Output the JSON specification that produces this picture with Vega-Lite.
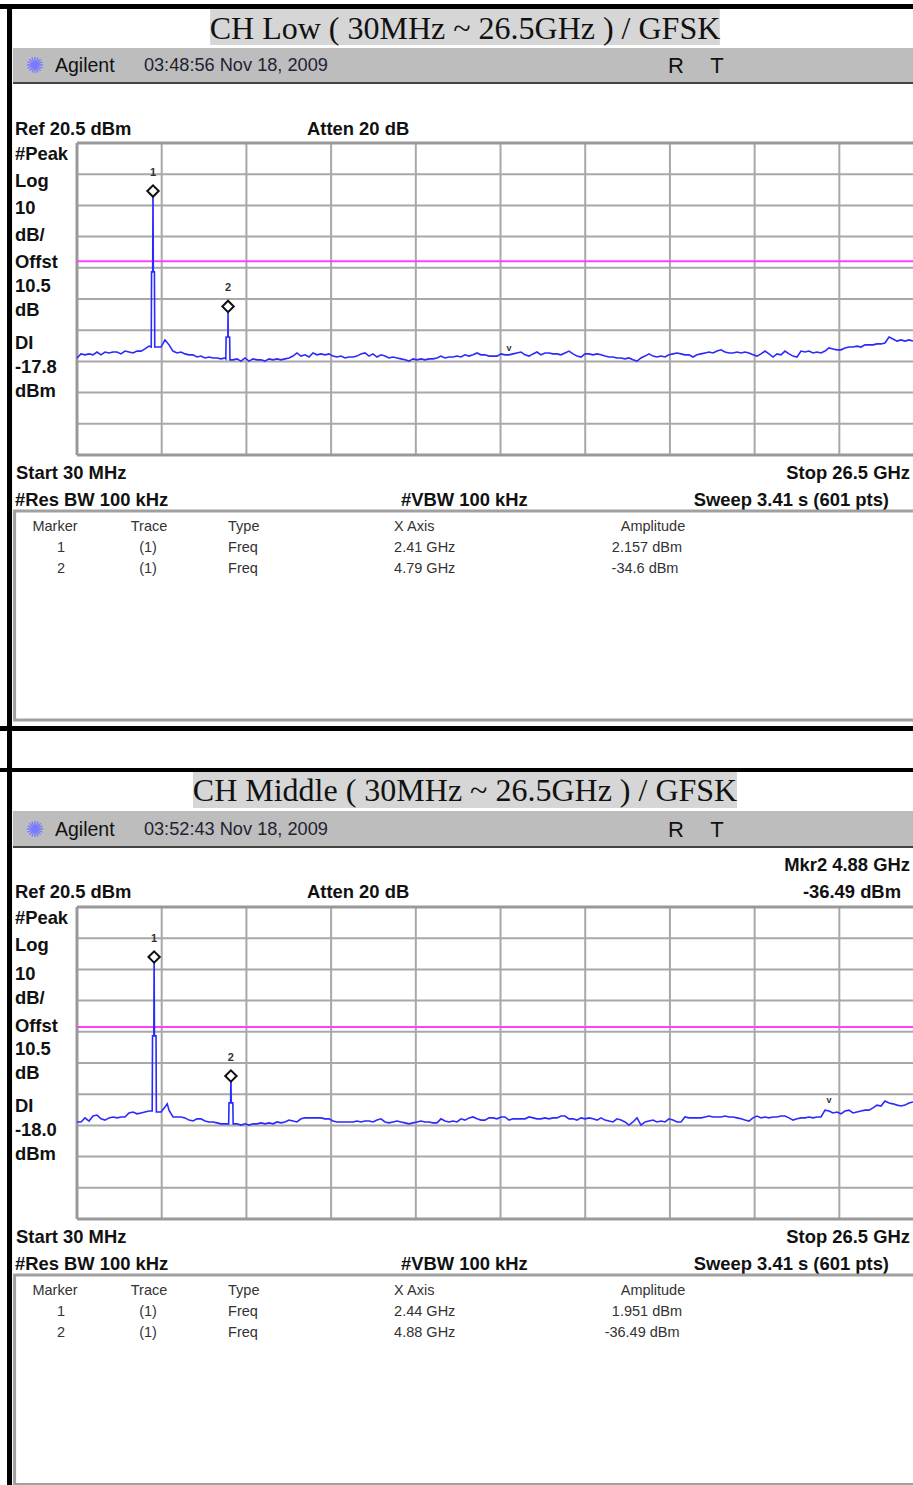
{"$schema":"https://vega.github.io/schema/vega-lite/v6.json","width":913,"height":1485,"padding":0,"autosize":{"type":"none"},"background":"white","config":{"view":{"stroke":null},"axis":{"disable":true},"text":{"font":"Liberation Sans","dy":1}},
"data":{"values":[{"note":"annotation"}]},
"datasets":{
"gridX":[{"f":2.677},{"f":5.324},{"f":7.971},{"f":10.618},{"f":13.265},{"f":15.912},{"f":18.559},{"f":21.206},{"f":23.853}],
"gridY":[{"a":10.5},{"a":0.5},{"a":-9.5},{"a":-19.5},{"a":-29.5},{"a":-39.5},{"a":-49.5},{"a":-59.5},{"a":-69.5}],
"markersLow":[{"m":"1","f":2.405,"a":5.1,"tr":"(1)","ty":"Freq","xa":"2.41 GHz","amp":"2.157 dBm"},{"m":"2","f":4.75,"a":-31.9,"tr":"(1)","ty":"Freq","xa":"4.79 GHz","amp":"-34.6 dBm"}],
"markersMid":[{"m":"1","f":2.44,"a":4.47,"tr":"(1)","ty":"Freq","xa":"2.44 GHz","amp":"1.951 dBm"},{"m":"2","f":4.84,"a":-33.67,"tr":"(1)","ty":"Freq","xa":"4.88 GHz","amp":"-36.49 dBm"}],
"low":[{"f":0.03,"a":-48.4},{"f":0.155,"a":-47.1},{"f":0.28,"a":-47.4},{"f":0.405,"a":-47.1},{"f":0.53,"a":-47.4},{"f":0.655,"a":-46.5},{"f":0.78,"a":-47.4},{"f":0.905,"a":-46.5},{"f":1.03,"a":-46.8},{"f":1.155,"a":-46.5},{"f":1.28,"a":-46.5},{"f":1.405,"a":-47.1},{"f":1.53,"a":-46.2},{"f":1.655,"a":-46.5},{"f":1.78,"a":-46.8},{"f":1.905,"a":-46.2},{"f":2.03,"a":-46.2},{"f":2.155,"a":-45.5},{"f":2.28,"a":-44.6},{"f":2.35,"a":-44.9},{"f":2.36,"a":-20.8},{"f":2.395,"a":-20.8},{"f":2.405,"a":5.1},{"f":2.415,"a":-20.8},{"f":2.45,"a":-20.8},{"f":2.46,"a":-44.9},{"f":2.53,"a":-44.9},{"f":2.655,"a":-44.9},{"f":2.78,"a":-42.6},{"f":2.905,"a":-44.2},{"f":3.03,"a":-46.2},{"f":3.155,"a":-46.8},{"f":3.28,"a":-46.5},{"f":3.405,"a":-47.1},{"f":3.53,"a":-47.4},{"f":3.655,"a":-47.4},{"f":3.78,"a":-48.1},{"f":3.905,"a":-47.8},{"f":4.03,"a":-48.4},{"f":4.155,"a":-48.1},{"f":4.28,"a":-48.4},{"f":4.405,"a":-48.4},{"f":4.53,"a":-48.7},{"f":4.655,"a":-48.4},{"f":4.68,"a":-48.7},{"f":4.69,"a":-41.7},{"f":4.745,"a":-41.7},{"f":4.75,"a":-31.9},{"f":4.755,"a":-41.7},{"f":4.8,"a":-41.7},{"f":4.81,"a":-49},{"f":4.905,"a":-49},
{"f":5.03,"a":-48.7},{"f":5.155,"a":-49.4},{"f":5.28,"a":-48.4},{"f":5.405,"a":-49.4},{"f":5.53,"a":-48.7},{"f":5.655,"a":-49},{"f":5.78,"a":-49},{"f":5.905,"a":-49.4},
{"f":6.03,"a":-48.7},{"f":6.155,"a":-49},{"f":6.28,"a":-48.7},{"f":6.405,"a":-49},{"f":6.53,"a":-48.7},{"f":6.655,"a":-48.4},{"f":6.78,"a":-47.8},{"f":6.905,"a":-46.8},
{"f":7.03,"a":-47.8},{"f":7.155,"a":-47.4},{"f":7.28,"a":-48.1},{"f":7.405,"a":-46.8},{"f":7.53,"a":-47.4},{"f":7.655,"a":-47.1},{"f":7.78,"a":-47.4},{"f":7.905,"a":-47.1},
{"f":8.03,"a":-47.8},{"f":8.155,"a":-48.1},{"f":8.28,"a":-47.8},{"f":8.405,"a":-48.4},{"f":8.53,"a":-48.1},{"f":8.655,"a":-48.1},{"f":8.78,"a":-47.8},{"f":8.905,"a":-47.1},
{"f":9.03,"a":-46.8},{"f":9.155,"a":-47.8},{"f":9.28,"a":-47.1},{"f":9.405,"a":-48.1},{"f":9.53,"a":-47.4},{"f":9.655,"a":-47.8},{"f":9.78,"a":-48.4},{"f":9.905,"a":-48.1},
{"f":10.03,"a":-48.4},{"f":10.155,"a":-48.7},{"f":10.28,"a":-49},{"f":10.405,"a":-49.4},{"f":10.53,"a":-48.7},{"f":10.655,"a":-49},{"f":10.78,"a":-48.7},{"f":10.905,"a":-49},
{"f":11.03,"a":-48.7},{"f":11.155,"a":-48.7},{"f":11.28,"a":-48.4},{"f":11.405,"a":-47.8},{"f":11.53,"a":-48.4},{"f":11.655,"a":-48.1},{"f":11.78,"a":-48.1},{"f":11.905,"a":-47.8},
{"f":12.03,"a":-48.1},{"f":12.155,"a":-47.4},{"f":12.28,"a":-47.8},{"f":12.405,"a":-47.4},{"f":12.53,"a":-46.8},{"f":12.655,"a":-47.4},{"f":12.78,"a":-47.4},{"f":12.905,"a":-47.8},
{"f":13.03,"a":-47.8},{"f":13.155,"a":-47.8},{"f":13.28,"a":-47.1},{"f":13.405,"a":-47.4},{"f":13.53,"a":-47.4},{"f":13.655,"a":-47.1},{"f":13.78,"a":-46.8},{"f":13.905,"a":-46.5},
{"f":14.03,"a":-47.4},{"f":14.155,"a":-47.8},{"f":14.28,"a":-47.1},{"f":14.405,"a":-46.5},{"f":14.53,"a":-47.4},{"f":14.655,"a":-46.8},{"f":14.78,"a":-46.8},{"f":14.905,"a":-47.1},
{"f":15.03,"a":-47.1},{"f":15.155,"a":-47.4},{"f":15.28,"a":-46.8},{"f":15.405,"a":-46.2},{"f":15.53,"a":-47.1},{"f":15.655,"a":-47.8},{"f":15.78,"a":-48.1},{"f":15.905,"a":-47.1},
{"f":16.03,"a":-47.1},{"f":16.155,"a":-47.4},{"f":16.28,"a":-47.1},{"f":16.405,"a":-47.4},{"f":16.53,"a":-47.8},{"f":16.655,"a":-48.1},{"f":16.78,"a":-48.1},{"f":16.905,"a":-48.4},
{"f":17.03,"a":-48.4},{"f":17.155,"a":-48.7},{"f":17.28,"a":-48.4},{"f":17.405,"a":-49},{"f":17.53,"a":-49.4},{"f":17.655,"a":-48.4},{"f":17.78,"a":-47.8},{"f":17.905,"a":-47.1},
{"f":18.03,"a":-47.8},{"f":18.155,"a":-48.1},{"f":18.28,"a":-47.8},{"f":18.405,"a":-48.1},{"f":18.53,"a":-47.4},{"f":18.655,"a":-47.1},{"f":18.78,"a":-46.8},{"f":18.905,"a":-47.1},
{"f":19.03,"a":-47.4},{"f":19.155,"a":-47.4},{"f":19.28,"a":-48.1},{"f":19.405,"a":-47.4},{"f":19.53,"a":-47.1},{"f":19.655,"a":-46.8},{"f":19.78,"a":-46.5},{"f":19.905,"a":-46.8},
{"f":20.03,"a":-46.2},{"f":20.155,"a":-45.8},{"f":20.28,"a":-46.5},{"f":20.405,"a":-46.8},{"f":20.53,"a":-46.8},{"f":20.655,"a":-46.5},{"f":20.78,"a":-46.8},{"f":20.905,"a":-46.5},
{"f":21.03,"a":-46.8},{"f":21.155,"a":-47.4},{"f":21.28,"a":-47.8},{"f":21.405,"a":-47.1},{"f":21.53,"a":-46.2},{"f":21.655,"a":-47.1},{"f":21.78,"a":-48.1},{"f":21.905,"a":-47.1},
{"f":22.03,"a":-47.4},{"f":22.155,"a":-46.2},{"f":22.28,"a":-47.1},{"f":22.405,"a":-47.8},{"f":22.53,"a":-48.1},{"f":22.655,"a":-46.2},{"f":22.78,"a":-46.5},{"f":22.905,"a":-46.2},
{"f":23.03,"a":-46.8},{"f":23.155,"a":-46.5},{"f":23.28,"a":-46.8},{"f":23.405,"a":-46.2},{"f":23.53,"a":-45.2},{"f":23.655,"a":-45.5},{"f":23.78,"a":-45.8},{"f":23.905,"a":-45.8},
{"f":24.03,"a":-45.2},{"f":24.155,"a":-44.9},{"f":24.28,"a":-44.9},{"f":24.405,"a":-44.6},{"f":24.53,"a":-44.9},{"f":24.655,"a":-44.2},{"f":24.78,"a":-44.2},{"f":24.905,"a":-44.2},
{"f":25.03,"a":-43.9},{"f":25.155,"a":-43.9},{"f":25.28,"a":-43.6},{"f":25.405,"a":-41.7},{"f":25.53,"a":-42.3},{"f":25.655,"a":-43},{"f":25.78,"a":-42.6},{"f":25.905,"a":-43},{"f":26.03,"a":-42.6},{"f":26.155,"a":-43}],
"mid":[{"f":0.03,"a":-48.4},{"f":0.155,"a":-48.4},{"f":0.28,"a":-47.1},{"f":0.405,"a":-48.1},{"f":0.53,"a":-46.5},{"f":0.655,"a":-46.2},{"f":0.78,"a":-47.4},{"f":0.905,"a":-47.8},{"f":1.03,"a":-47.1},{"f":1.155,"a":-46.8},{"f":1.28,"a":-47.1},{"f":1.405,"a":-46.8},{"f":1.53,"a":-46.8},{"f":1.655,"a":-45.5},{"f":1.78,"a":-45.2},{"f":1.905,"a":-45.8},{"f":2.03,"a":-45.5},{"f":2.155,"a":-45.2},{"f":2.28,"a":-44.9},{"f":2.38,"a":-44.9},{"f":2.39,"a":-20.8},{"f":2.43,"a":-20.8},{"f":2.44,"a":4.47},{"f":2.45,"a":-20.8},{"f":2.5,"a":-20.8},{"f":2.51,"a":-45.2},{"f":2.655,"a":-45.2},{"f":2.78,"a":-43.6},{"f":2.85,"a":-42.6},{"f":2.905,"a":-44.6},{"f":3.03,"a":-46.8},{"f":3.155,"a":-46.8},{"f":3.28,"a":-46.8},{"f":3.405,"a":-47.1},{"f":3.53,"a":-47.8},{"f":3.655,"a":-48.1},{"f":3.78,"a":-47.4},{"f":3.905,"a":-47.4},{"f":4.03,"a":-48.1},{"f":4.155,"a":-48.4},{"f":4.28,"a":-48.4},{"f":4.405,"a":-48.7},{"f":4.53,"a":-49},{"f":4.655,"a":-49},{"f":4.77,"a":-49},{"f":4.78,"a":-42.3},{"f":4.83,"a":-42.3},{"f":4.84,"a":-33.67},{"f":4.85,"a":-42.3},{"f":4.9,"a":-42.3},{"f":4.91,"a":-49},
{"f":5.03,"a":-49},{"f":5.155,"a":-49.4},{"f":5.28,"a":-49},{"f":5.405,"a":-49.4},{"f":5.53,"a":-49},{"f":5.655,"a":-49},{"f":5.78,"a":-48.7},{"f":5.905,"a":-49},
{"f":6.03,"a":-48.7},{"f":6.155,"a":-49},{"f":6.28,"a":-48.4},{"f":6.405,"a":-48.7},{"f":6.53,"a":-48.4},{"f":6.655,"a":-47.8},{"f":6.78,"a":-48.1},{"f":6.905,"a":-48.4},
{"f":7.03,"a":-47.4},{"f":7.155,"a":-47.1},{"f":7.28,"a":-47.1},{"f":7.405,"a":-47.1},{"f":7.53,"a":-47.1},{"f":7.655,"a":-47.1},{"f":7.78,"a":-47.4},{"f":7.905,"a":-47.4},
{"f":8.03,"a":-48.1},{"f":8.155,"a":-48.4},{"f":8.28,"a":-48.4},{"f":8.405,"a":-48.4},{"f":8.53,"a":-48.4},{"f":8.655,"a":-48.4},{"f":8.78,"a":-48.1},{"f":8.905,"a":-48.4},
{"f":9.03,"a":-48.1},{"f":9.155,"a":-48.1},{"f":9.28,"a":-48.4},{"f":9.405,"a":-47.8},{"f":9.53,"a":-47.4},{"f":9.655,"a":-48.4},{"f":9.78,"a":-48.7},{"f":9.905,"a":-48.4},
{"f":10.03,"a":-48.1},{"f":10.155,"a":-48.4},{"f":10.28,"a":-48.7},{"f":10.405,"a":-49},{"f":10.53,"a":-48.7},{"f":10.655,"a":-48.4},{"f":10.78,"a":-48.1},{"f":10.905,"a":-48.4},
{"f":11.03,"a":-48.4},{"f":11.155,"a":-48.7},{"f":11.28,"a":-48.7},{"f":11.405,"a":-47.4},{"f":11.53,"a":-48.1},{"f":11.655,"a":-48.4},{"f":11.78,"a":-48.1},{"f":11.905,"a":-48.4},
{"f":12.03,"a":-47.4},{"f":12.155,"a":-47.8},{"f":12.28,"a":-47.1},{"f":12.405,"a":-46.8},{"f":12.53,"a":-47.4},{"f":12.655,"a":-47.8},{"f":12.78,"a":-47.8},{"f":12.905,"a":-47.1},
{"f":13.03,"a":-47.1},{"f":13.155,"a":-47.4},{"f":13.28,"a":-46.8},{"f":13.405,"a":-46.8},{"f":13.53,"a":-47.8},{"f":13.655,"a":-47.4},{"f":13.78,"a":-47.4},{"f":13.905,"a":-47.4},
{"f":14.03,"a":-47.4},{"f":14.155,"a":-46.8},{"f":14.28,"a":-47.1},{"f":14.405,"a":-47.4},{"f":14.53,"a":-47.4},{"f":14.655,"a":-47.1},{"f":14.78,"a":-47.4},{"f":14.905,"a":-47.1},
{"f":15.03,"a":-47.1},{"f":15.155,"a":-46.5},{"f":15.28,"a":-46.5},{"f":15.405,"a":-47.4},{"f":15.53,"a":-47.4},{"f":15.655,"a":-47.8},{"f":15.78,"a":-47.1},{"f":15.905,"a":-47.4},
{"f":16.03,"a":-47.1},{"f":16.155,"a":-47.4},{"f":16.28,"a":-47.8},{"f":16.405,"a":-47.1},{"f":16.53,"a":-47.8},{"f":16.655,"a":-48.1},{"f":16.78,"a":-48.4},{"f":16.905,"a":-47.4},
{"f":17.03,"a":-47.8},{"f":17.155,"a":-48.4},{"f":17.28,"a":-49.4},{"f":17.405,"a":-48.4},{"f":17.53,"a":-47.1},{"f":17.655,"a":-49.4},{"f":17.78,"a":-48.4},{"f":17.905,"a":-48.1},
{"f":18.03,"a":-47.8},{"f":18.155,"a":-48.4},{"f":18.28,"a":-48.1},{"f":18.405,"a":-48.4},{"f":18.53,"a":-47.4},{"f":18.655,"a":-47.8},{"f":18.78,"a":-48.4},{"f":18.905,"a":-48.4},
{"f":19.03,"a":-46.8},{"f":19.155,"a":-47.1},{"f":19.28,"a":-47.1},{"f":19.405,"a":-47.1},{"f":19.53,"a":-47.1},{"f":19.655,"a":-46.8},{"f":19.78,"a":-46.5},{"f":19.905,"a":-46.8},
{"f":20.03,"a":-46.8},{"f":20.155,"a":-46.8},{"f":20.28,"a":-46.5},{"f":20.405,"a":-46.8},{"f":20.53,"a":-46.8},{"f":20.655,"a":-47.1},{"f":20.78,"a":-47.4},{"f":20.905,"a":-47.8},
{"f":21.03,"a":-48.1},{"f":21.155,"a":-47.1},{"f":21.28,"a":-46.5},{"f":21.405,"a":-47.1},{"f":21.53,"a":-46.8},{"f":21.655,"a":-47.1},{"f":21.78,"a":-46.8},{"f":21.905,"a":-46.8},
{"f":22.03,"a":-46.5},{"f":22.155,"a":-46.5},{"f":22.28,"a":-47.1},{"f":22.405,"a":-47.8},{"f":22.53,"a":-47.4},{"f":22.655,"a":-47.1},{"f":22.78,"a":-47.1},{"f":22.905,"a":-46.8},
{"f":23.03,"a":-47.1},{"f":23.155,"a":-46.8},{"f":23.28,"a":-46.8},{"f":23.405,"a":-44.6},{"f":23.53,"a":-44.9},{"f":23.655,"a":-45.5},{"f":23.78,"a":-45.2},{"f":23.905,"a":-45.8},
{"f":24.03,"a":-44.9},{"f":24.155,"a":-44.6},{"f":24.28,"a":-45.5},{"f":24.405,"a":-45.2},{"f":24.53,"a":-44.9},{"f":24.655,"a":-44.6},{"f":24.78,"a":-44.6},{"f":24.905,"a":-43.9},
{"f":25.03,"a":-43},{"f":25.155,"a":-43.3},{"f":25.28,"a":-41.7},{"f":25.405,"a":-42.3},{"f":25.53,"a":-42.6},{"f":25.655,"a":-43},{"f":25.78,"a":-43.3},{"f":25.905,"a":-43},{"f":26.03,"a":-42.3},{"f":26.155,"a":-42}]
},
"resolve":{"scale":{"y":"independent"}},
"layer":[
{"layer":[
{"mark":{"type":"rect","color":"white","opacity":0},"encoding":{"x":{"datum":-2.37625,"scale":{"domain":[-2.37625,26.155],"nice":false,"zero":false},"axis":null},"x2":{"datum":26.155},"y":{"datum":66.33,"scale":{"domain":[-409.63,66.33],"nice":false,"zero":false},"axis":null},"y2":{"datum":-409.63}}},
{"mark":{"type":"rect","color":"black"},"encoding":{"x":{"datum":-2.37625},"x2":{"datum":26.155},"y":{"datum":65.05},"y2":{"datum":63.45}}},
{"mark":{"type":"rect","color":"black"},"encoding":{"x":{"datum":-2.37625},"x2":{"datum":26.155},"y":{"datum":-166.36},"y2":{"datum":-167.96}}},
{"mark":{"type":"rect","color":"black"},"encoding":{"x":{"datum":-2.1575},"x2":{"datum":-2.0},"y":{"datum":65.05},"y2":{"datum":-409.63}}},
{"mark":{"type":"rect","color":"#d6d6d6"},"encoding":{"x":{"datum":4.19},"x2":{"datum":20.12},"y":{"datum":63.45},"y2":{"datum":51.91}}},
{"mark":{"type":"text","font":"Liberation Serif","fontSize":32,"color":"#111"},"encoding":{"x":{"datum":12.155},"y":{"datum":57.36},"text":{"value":"CH Low ( 30MHz ~ 26.5GHz ) / GFSK"}}},
{"mark":{"type":"rect","color":"#bdbdbd"},"encoding":{"x":{"datum":-1.97},"x2":{"datum":26.155},"y":{"datum":50.95},"y2":{"datum":40.05}}},
{"mark":{"type":"rule","color":"#444","strokeWidth":2},"encoding":{"x":{"datum":-1.97},"x2":{"datum":26.155},"y":{"datum":39.73}}},
{"mark":{"type":"text","font":"DejaVu Sans","fontSize":22,"color":"#7a7aff"},"encoding":{"x":{"datum":-1.28},"y":{"datum":45.5},"text":{"value":"✺"}}},
{"mark":{"type":"text","fontSize":19.5,"align":"left","color":"#111"},"encoding":{"x":{"datum":-0.6575},"y":{"datum":45.5},"text":{"value":"Agilent"}}},
{"mark":{"type":"text","fontSize":18.2,"align":"left","color":"#223"},"encoding":{"x":{"datum":2.12},"y":{"datum":45.5},"text":{"value":"03:48:56  Nov 18, 2009"}}},
{"mark":{"type":"text","fontSize":22,"color":"#111"},"encoding":{"x":{"datum":18.75},"y":{"datum":45.5},"text":{"value":"R"}}},
{"mark":{"type":"text","fontSize":22,"color":"#111"},"encoding":{"x":{"datum":20.03},"y":{"datum":45.5},"text":{"value":"T"}}},
{"mark":{"type":"text","fontSize":18.4,"fontWeight":"bold","align":"left","color":"#111"},"encoding":{"x":{"datum":-1.91},"y":{"datum":25.31},"text":{"value":"Ref 20.5 dBm"}}},
{"mark":{"type":"text","fontSize":18.4,"fontWeight":"bold","align":"left","color":"#111"},"encoding":{"x":{"datum":7.2175},"y":{"datum":25.31},"text":{"value":"Atten 20 dB"}}},
{"mark":{"type":"text","fontSize":18.4,"fontWeight":"bold","align":"left","color":"#111"},"encoding":{"x":{"datum":-1.91},"y":{"datum":17.29},"text":{"value":"#Peak"}}},
{"mark":{"type":"text","fontSize":18.4,"fontWeight":"bold","align":"left","color":"#111"},"encoding":{"x":{"datum":-1.91},"y":{"datum":8.64},"text":{"value":"Log"}}},
{"mark":{"type":"text","fontSize":18.4,"fontWeight":"bold","align":"left","color":"#111"},"encoding":{"x":{"datum":-1.91},"y":{"datum":-0.01},"text":{"value":"10"}}},
{"mark":{"type":"text","fontSize":18.4,"fontWeight":"bold","align":"left","color":"#111"},"encoding":{"x":{"datum":-1.91},"y":{"datum":-8.67},"text":{"value":"dB/"}}},
{"mark":{"type":"text","fontSize":18.4,"fontWeight":"bold","align":"left","color":"#111"},"encoding":{"x":{"datum":-1.91},"y":{"datum":-17.32},"text":{"value":"Offst"}}},
{"mark":{"type":"text","fontSize":18.4,"fontWeight":"bold","align":"left","color":"#111"},"encoding":{"x":{"datum":-1.91},"y":{"datum":-25.01},"text":{"value":"10.5"}}},
{"mark":{"type":"text","fontSize":18.4,"fontWeight":"bold","align":"left","color":"#111"},"encoding":{"x":{"datum":-1.91},"y":{"datum":-32.7},"text":{"value":"dB"}}},
{"mark":{"type":"text","fontSize":18.4,"fontWeight":"bold","align":"left","color":"#111"},"encoding":{"x":{"datum":-1.91},"y":{"datum":-43.28},"text":{"value":"DI"}}},
{"mark":{"type":"text","fontSize":18.4,"fontWeight":"bold","align":"left","color":"#111"},"encoding":{"x":{"datum":-1.91},"y":{"datum":-50.97},"text":{"value":"-17.8"}}},
{"mark":{"type":"text","fontSize":18.4,"fontWeight":"bold","align":"left","color":"#111"},"encoding":{"x":{"datum":-1.91},"y":{"datum":-58.67},"text":{"value":"dBm"}}},
{"data":{"name":"gridX"},"mark":{"type":"rule","color":"#a8a8a8","strokeWidth":2},"encoding":{"x":{"field":"f","type":"quantitative"},"y":{"datum":20.5},"y2":{"datum":-79.5}}},
{"data":{"name":"gridY"},"mark":{"type":"rule","color":"#a8a8a8","strokeWidth":2},"encoding":{"y":{"field":"a","type":"quantitative"},"x":{"datum":0.03},"x2":{"datum":26.155}}},
{"mark":{"type":"rule","color":"#999","strokeWidth":3},"encoding":{"x":{"datum":0.03},"x2":{"datum":26.155},"y":{"datum":20.5}}},
{"mark":{"type":"rule","color":"#999","strokeWidth":3},"encoding":{"x":{"datum":0.03},"x2":{"datum":26.155},"y":{"datum":-79.5}}},
{"mark":{"type":"rule","color":"#999","strokeWidth":3},"encoding":{"x":{"datum":0.03},"y":{"datum":20.5},"y2":{"datum":-79.5}}},
{"mark":{"type":"rule","color":"#ff40ff","strokeWidth":2},"encoding":{"x":{"datum":0.03},"x2":{"datum":26.155},"y":{"datum":-17.4}}},
{"data":{"name":"low"},"mark":{"type":"line","color":"#2a2aff","strokeWidth":1.6},"encoding":{"x":{"field":"f","type":"quantitative"},"y":{"field":"a","type":"quantitative"}}},
{"data":{"name":"markersLow"},"mark":{"type":"point","shape":"diamond","filled":true,"fill":"white","stroke":"#111","strokeWidth":2,"size":130,"opacity":1},"encoding":{"x":{"field":"f","type":"quantitative"},"y":{"field":"a","type":"quantitative"}}},
{"data":{"name":"markersLow"},"mark":{"type":"text","fontSize":11,"fontWeight":"bold","dy":-18,"color":"#333"},"encoding":{"x":{"field":"f","type":"quantitative"},"y":{"field":"a","type":"quantitative"},"text":{"field":"m"}}},
{"mark":{"type":"text","fontSize":9,"fontWeight":"bold","color":"#333"},"encoding":{"x":{"datum":13.53},"y":{"datum":-44.9},"text":{"value":"v"}}},
{"mark":{"type":"text","fontSize":18.4,"fontWeight":"bold","align":"left","color":"#111"},"encoding":{"x":{"datum":-1.876},"y":{"datum":-84.95},"text":{"value":"Start 30 MHz"}}},
{"mark":{"type":"text","fontSize":18.4,"fontWeight":"bold","align":"right","color":"#111"},"encoding":{"x":{"datum":26.06},"y":{"datum":-84.95},"text":{"value":"Stop 26.5 GHz"}}},
{"mark":{"type":"text","fontSize":18.4,"fontWeight":"bold","align":"left","color":"#111"},"encoding":{"x":{"datum":-1.91},"y":{"datum":-93.6},"text":{"value":"#Res BW 100 kHz"}}},
{"mark":{"type":"text","fontSize":18.4,"fontWeight":"bold","align":"left","color":"#111"},"encoding":{"x":{"datum":10.155},"y":{"datum":-93.6},"text":{"value":"#VBW 100 kHz"}}},
{"mark":{"type":"text","fontSize":18.4,"fontWeight":"bold","align":"right","color":"#111"},"encoding":{"x":{"datum":25.405},"y":{"datum":-93.6},"text":{"value":"Sweep 3.41 s (601 pts)"}}},
{"mark":{"type":"rect","fill":"white","stroke":"#a0a0a0","strokeWidth":3,"clip":true},"encoding":{"x":{"datum":-1.92},"x2":{"datum":27},"y":{"datum":-97.45},"y2":{"datum":-164.43}}},
{"mark":{"type":"text","fontSize":14.5,"color":"#333"},"encoding":{"x":{"datum":-0.6575},"y":{"datum":-102.26},"text":{"value":"Marker"}}},
{"mark":{"type":"text","fontSize":14.5,"color":"#333"},"encoding":{"x":{"datum":2.28},"y":{"datum":-102.26},"text":{"value":"Trace"}}},
{"mark":{"type":"text","fontSize":14.5,"align":"left","color":"#333"},"encoding":{"x":{"datum":4.75},"y":{"datum":-102.26},"text":{"value":"Type"}}},
{"mark":{"type":"text","fontSize":14.5,"align":"left","color":"#333"},"encoding":{"x":{"datum":9.94},"y":{"datum":-102.26},"text":{"value":"X Axis"}}},
{"mark":{"type":"text","fontSize":14.5,"color":"#333"},"encoding":{"x":{"datum":18.03},"y":{"datum":-102.26},"text":{"value":"Amplitude"}}},
{"mark":{"type":"text","fontSize":14.5,"color":"#333"},"encoding":{"x":{"datum":-0.47},"y":{"datum":-108.99},"text":{"value":"1"}}},
{"mark":{"type":"text","fontSize":14.5,"color":"#333"},"encoding":{"x":{"datum":2.25},"y":{"datum":-108.99},"text":{"value":"(1)"}}},
{"mark":{"type":"text","fontSize":14.5,"align":"left","color":"#333"},"encoding":{"x":{"datum":4.75},"y":{"datum":-108.99},"text":{"value":"Freq"}}},
{"mark":{"type":"text","fontSize":14.5,"align":"left","color":"#333"},"encoding":{"x":{"datum":9.94},"y":{"datum":-108.99},"text":{"value":"2.41 GHz"}}},
{"mark":{"type":"text","fontSize":14.5,"color":"#333"},"encoding":{"x":{"datum":17.84},"y":{"datum":-108.99},"text":{"value":"2.157 dBm"}}},
{"mark":{"type":"text","fontSize":14.5,"color":"#333"},"encoding":{"x":{"datum":-0.47},"y":{"datum":-115.72},"text":{"value":"2"}}},
{"mark":{"type":"text","fontSize":14.5,"color":"#333"},"encoding":{"x":{"datum":2.25},"y":{"datum":-115.72},"text":{"value":"(1)"}}},
{"mark":{"type":"text","fontSize":14.5,"align":"left","color":"#333"},"encoding":{"x":{"datum":4.75},"y":{"datum":-115.72},"text":{"value":"Freq"}}},
{"mark":{"type":"text","fontSize":14.5,"align":"left","color":"#333"},"encoding":{"x":{"datum":9.94},"y":{"datum":-115.72},"text":{"value":"4.79 GHz"}}},
{"mark":{"type":"text","fontSize":14.5,"color":"#333"},"encoding":{"x":{"datum":17.78},"y":{"datum":-115.72},"text":{"value":"-34.6 dBm"}}}
]},
{"layer":[
{"mark":{"type":"rect","color":"white","opacity":0},"encoding":{"x":{"datum":-2.37625},"x2":{"datum":26.155},"y":{"datum":311.2,"scale":{"domain":[-164.76,311.2],"nice":false,"zero":false},"axis":null},"y2":{"datum":-164.76}}},
{"mark":{"type":"rect","color":"black"},"encoding":{"x":{"datum":-2.37625},"x2":{"datum":26.155},"y":{"datum":65.05},"y2":{"datum":63.77}}},
{"mark":{"type":"rect","color":"#d6d6d6"},"encoding":{"x":{"datum":3.655},"x2":{"datum":20.655},"y":{"datum":63.77},"y2":{"datum":52.23}}},
{"mark":{"type":"text","font":"Liberation Serif","fontSize":32,"color":"#111"},"encoding":{"x":{"datum":12.155},"y":{"datum":58},"text":{"value":"CH Middle ( 30MHz ~ 26.5GHz ) / GFSK"}}},
{"mark":{"type":"rect","color":"#bdbdbd"},"encoding":{"x":{"datum":-1.97},"x2":{"datum":26.155},"y":{"datum":51.27},"y2":{"datum":40.05}}},
{"mark":{"type":"rule","color":"#444","strokeWidth":2},"encoding":{"x":{"datum":-1.97},"x2":{"datum":26.155},"y":{"datum":39.73}}},
{"mark":{"type":"text","font":"DejaVu Sans","fontSize":22,"color":"#7a7aff"},"encoding":{"x":{"datum":-1.28},"y":{"datum":45.5},"text":{"value":"✺"}}},
{"mark":{"type":"text","fontSize":19.5,"align":"left","color":"#111"},"encoding":{"x":{"datum":-0.6575},"y":{"datum":45.5},"text":{"value":"Agilent"}}},
{"mark":{"type":"text","fontSize":18.2,"align":"left","color":"#223"},"encoding":{"x":{"datum":2.12},"y":{"datum":45.5},"text":{"value":"03:52:43  Nov 18, 2009"}}},
{"mark":{"type":"text","fontSize":22,"color":"#111"},"encoding":{"x":{"datum":18.75},"y":{"datum":45.5},"text":{"value":"R"}}},
{"mark":{"type":"text","fontSize":22,"color":"#111"},"encoding":{"x":{"datum":20.03},"y":{"datum":45.5},"text":{"value":"T"}}},
{"mark":{"type":"text","fontSize":18.4,"fontWeight":"bold","align":"right","color":"#111"},"encoding":{"x":{"datum":26.06},"y":{"datum":34.28},"text":{"value":"Mkr2  4.88 GHz"}}},
{"mark":{"type":"text","fontSize":18.4,"fontWeight":"bold","align":"right","color":"#111"},"encoding":{"x":{"datum":25.78},"y":{"datum":25.63},"text":{"value":"-36.49 dBm"}}},
{"mark":{"type":"text","fontSize":18.4,"fontWeight":"bold","align":"left","color":"#111"},"encoding":{"x":{"datum":-1.91},"y":{"datum":25.63},"text":{"value":"Ref 20.5 dBm"}}},
{"mark":{"type":"text","fontSize":18.4,"fontWeight":"bold","align":"left","color":"#111"},"encoding":{"x":{"datum":7.2175},"y":{"datum":25.63},"text":{"value":"Atten 20 dB"}}},
{"mark":{"type":"text","fontSize":18.4,"fontWeight":"bold","align":"left","color":"#111"},"encoding":{"x":{"datum":-1.91},"y":{"datum":17.29},"text":{"value":"#Peak"}}},
{"mark":{"type":"text","fontSize":18.4,"fontWeight":"bold","align":"left","color":"#111"},"encoding":{"x":{"datum":-1.91},"y":{"datum":8.64},"text":{"value":"Log"}}},
{"mark":{"type":"text","fontSize":18.4,"fontWeight":"bold","align":"left","color":"#111"},"encoding":{"x":{"datum":-1.91},"y":{"datum":-0.69},"text":{"value":"10"}}},
{"mark":{"type":"text","fontSize":18.4,"fontWeight":"bold","align":"left","color":"#111"},"encoding":{"x":{"datum":-1.91},"y":{"datum":-8.35},"text":{"value":"dB/"}}},
{"mark":{"type":"text","fontSize":18.4,"fontWeight":"bold","align":"left","color":"#111"},"encoding":{"x":{"datum":-1.91},"y":{"datum":-17.32},"text":{"value":"Offst"}}},
{"mark":{"type":"text","fontSize":18.4,"fontWeight":"bold","align":"left","color":"#111"},"encoding":{"x":{"datum":-1.91},"y":{"datum":-24.69},"text":{"value":"10.5"}}},
{"mark":{"type":"text","fontSize":18.4,"fontWeight":"bold","align":"left","color":"#111"},"encoding":{"x":{"datum":-1.91},"y":{"datum":-32.38},"text":{"value":"dB"}}},
{"mark":{"type":"text","fontSize":18.4,"fontWeight":"bold","align":"left","color":"#111"},"encoding":{"x":{"datum":-1.91},"y":{"datum":-42.96},"text":{"value":"DI"}}},
{"mark":{"type":"text","fontSize":18.4,"fontWeight":"bold","align":"left","color":"#111"},"encoding":{"x":{"datum":-1.91},"y":{"datum":-50.65},"text":{"value":"-18.0"}}},
{"mark":{"type":"text","fontSize":18.4,"fontWeight":"bold","align":"left","color":"#111"},"encoding":{"x":{"datum":-1.91},"y":{"datum":-58.35},"text":{"value":"dBm"}}},
{"data":{"name":"gridX"},"mark":{"type":"rule","color":"#a8a8a8","strokeWidth":2},"encoding":{"x":{"field":"f","type":"quantitative"},"y":{"datum":20.5},"y2":{"datum":-79.5}}},
{"data":{"name":"gridY"},"mark":{"type":"rule","color":"#a8a8a8","strokeWidth":2},"encoding":{"y":{"field":"a","type":"quantitative"},"x":{"datum":0.03},"x2":{"datum":26.155}}},
{"mark":{"type":"rule","color":"#999","strokeWidth":3},"encoding":{"x":{"datum":0.03},"x2":{"datum":26.155},"y":{"datum":20.5}}},
{"mark":{"type":"rule","color":"#999","strokeWidth":3},"encoding":{"x":{"datum":0.03},"x2":{"datum":26.155},"y":{"datum":-79.5}}},
{"mark":{"type":"rule","color":"#999","strokeWidth":3},"encoding":{"x":{"datum":0.03},"y":{"datum":20.5},"y2":{"datum":-79.5}}},
{"mark":{"type":"rule","color":"#ff40ff","strokeWidth":2},"encoding":{"x":{"datum":0.03},"x2":{"datum":26.155},"y":{"datum":-18.0}}},
{"data":{"name":"mid"},"mark":{"type":"line","color":"#2a2aff","strokeWidth":1.6},"encoding":{"x":{"field":"f","type":"quantitative"},"y":{"field":"a","type":"quantitative"}}},
{"data":{"name":"markersMid"},"mark":{"type":"point","shape":"diamond","filled":true,"fill":"white","stroke":"#111","strokeWidth":2,"size":130,"opacity":1},"encoding":{"x":{"field":"f","type":"quantitative"},"y":{"field":"a","type":"quantitative"}}},
{"data":{"name":"markersMid"},"mark":{"type":"text","fontSize":11,"fontWeight":"bold","dy":-18,"color":"#333"},"encoding":{"x":{"field":"f","type":"quantitative"},"y":{"field":"a","type":"quantitative"},"text":{"field":"m"}}},
{"mark":{"type":"text","fontSize":9,"fontWeight":"bold","color":"#333"},"encoding":{"x":{"datum":23.53},"y":{"datum":-41.04},"text":{"value":"v"}}},
{"mark":{"type":"text","fontSize":18.4,"fontWeight":"bold","align":"left","color":"#111"},"encoding":{"x":{"datum":-1.876},"y":{"datum":-84.95},"text":{"value":"Start 30 MHz"}}},
{"mark":{"type":"text","fontSize":18.4,"fontWeight":"bold","align":"right","color":"#111"},"encoding":{"x":{"datum":26.06},"y":{"datum":-84.95},"text":{"value":"Stop 26.5 GHz"}}},
{"mark":{"type":"text","fontSize":18.4,"fontWeight":"bold","align":"left","color":"#111"},"encoding":{"x":{"datum":-1.91},"y":{"datum":-93.6},"text":{"value":"#Res BW 100 kHz"}}},
{"mark":{"type":"text","fontSize":18.4,"fontWeight":"bold","align":"left","color":"#111"},"encoding":{"x":{"datum":10.155},"y":{"datum":-93.6},"text":{"value":"#VBW 100 kHz"}}},
{"mark":{"type":"text","fontSize":18.4,"fontWeight":"bold","align":"right","color":"#111"},"encoding":{"x":{"datum":25.405},"y":{"datum":-93.6},"text":{"value":"Sweep 3.41 s (601 pts)"}}},
{"mark":{"type":"rect","fill":"white","stroke":"#a0a0a0","strokeWidth":3,"clip":true},"encoding":{"x":{"datum":-1.92},"x2":{"datum":27},"y":{"datum":-97.45},"y2":{"datum":-164.6}}},
{"mark":{"type":"text","fontSize":14.5,"color":"#333"},"encoding":{"x":{"datum":-0.6575},"y":{"datum":-102.26},"text":{"value":"Marker"}}},
{"mark":{"type":"text","fontSize":14.5,"color":"#333"},"encoding":{"x":{"datum":2.28},"y":{"datum":-102.26},"text":{"value":"Trace"}}},
{"mark":{"type":"text","fontSize":14.5,"align":"left","color":"#333"},"encoding":{"x":{"datum":4.75},"y":{"datum":-102.26},"text":{"value":"Type"}}},
{"mark":{"type":"text","fontSize":14.5,"align":"left","color":"#333"},"encoding":{"x":{"datum":9.94},"y":{"datum":-102.26},"text":{"value":"X Axis"}}},
{"mark":{"type":"text","fontSize":14.5,"color":"#333"},"encoding":{"x":{"datum":18.03},"y":{"datum":-102.26},"text":{"value":"Amplitude"}}},
{"mark":{"type":"text","fontSize":14.5,"color":"#333"},"encoding":{"x":{"datum":-0.47},"y":{"datum":-108.99},"text":{"value":"1"}}},
{"mark":{"type":"text","fontSize":14.5,"color":"#333"},"encoding":{"x":{"datum":2.25},"y":{"datum":-108.99},"text":{"value":"(1)"}}},
{"mark":{"type":"text","fontSize":14.5,"align":"left","color":"#333"},"encoding":{"x":{"datum":4.75},"y":{"datum":-108.99},"text":{"value":"Freq"}}},
{"mark":{"type":"text","fontSize":14.5,"align":"left","color":"#333"},"encoding":{"x":{"datum":9.94},"y":{"datum":-108.99},"text":{"value":"2.44 GHz"}}},
{"mark":{"type":"text","fontSize":14.5,"color":"#333"},"encoding":{"x":{"datum":17.84},"y":{"datum":-108.99},"text":{"value":"1.951 dBm"}}},
{"mark":{"type":"text","fontSize":14.5,"color":"#333"},"encoding":{"x":{"datum":-0.47},"y":{"datum":-115.72},"text":{"value":"2"}}},
{"mark":{"type":"text","fontSize":14.5,"color":"#333"},"encoding":{"x":{"datum":2.25},"y":{"datum":-115.72},"text":{"value":"(1)"}}},
{"mark":{"type":"text","fontSize":14.5,"align":"left","color":"#333"},"encoding":{"x":{"datum":4.75},"y":{"datum":-115.72},"text":{"value":"Freq"}}},
{"mark":{"type":"text","fontSize":14.5,"align":"left","color":"#333"},"encoding":{"x":{"datum":9.94},"y":{"datum":-115.72},"text":{"value":"4.88 GHz"}}},
{"mark":{"type":"text","fontSize":14.5,"color":"#333"},"encoding":{"x":{"datum":17.69},"y":{"datum":-115.72},"text":{"value":"-36.49 dBm"}}}
]}
]}
